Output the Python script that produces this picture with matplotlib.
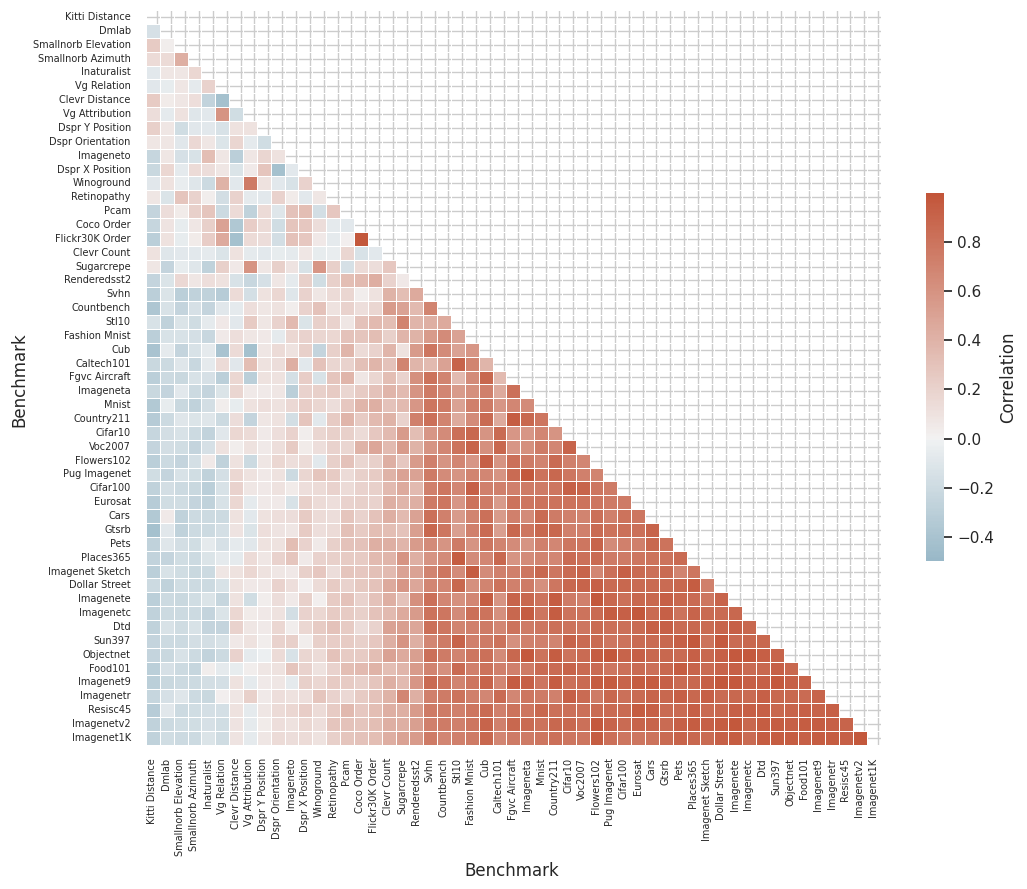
import matplotlib
matplotlib.use("Agg")
import matplotlib.pyplot as plt
import numpy as np
import seaborn as sns

benchmarks = ["Kitti Distance", "Dmlab", "Smallnorb Elevation", "Smallnorb Azimuth", "Inaturalist", "Vg Relation",
              "Clevr Distance", "Vg Attribution", "Dspr Y Position", "Dspr Orientation", "Imageneto", "Dspr X Position",
              "Winoground", "Retinopathy", "Pcam", "Coco Order", "Flickr30K Order", "Clevr Count", "Sugarcrepe",
              "Renderedsst2", "Svhn", "Countbench", "Stl10", "Fashion Mnist", "Cub", "Caltech101", "Fgvc Aircraft",
              "Imageneta", "Mnist", "Country211", "Cifar10", "Voc2007", "Flowers102", "Pug Imagenet", "Cifar100",
              "Eurosat", "Cars", "Gtsrb", "Pets", "Places365", "Imagenet Sketch", "Dollar Street", "Imagenete",
              "Imagenetc", "Dtd", "Sun397", "Objectnet", "Food101", "Imagenet9", "Imagenetr", "Resisc45", "Imagenetv2",
              "Imagenet1K"]

# lower triangle, one list per row
lower_rows = [
    [],
    [-.15],
    [.25, .03],
    [.15, .15, .42],
    [-.08, .07, .08, .17],
    [-.09, -.05, .07, -.06, .2],
    [.25, .04, .08, .12, -.26, -.42],
    [.13, -.06, .1, -.1, -.08, .6, -.18],
    [.22, .08, -.18, -.09, -.08, -.14, .1, .1],
    [.07, .08, -.09, .16, .07, -.11, .18, -.07, -.18],
    [-.24, .08, -.15, -.13, .33, .07, -.3, .07, .18, .1],
    [-.22, .17, -.06, .14, .13, .08, -.12, .05, .28, -.42, -.08],
    [-.09, .1, -.04, -.1, -.2, .4, -.08, .75, .1, -.08, -.13, .2],
    [.07, -.12, .28, .2, .03, -.17, .2, -.07, -.08, .2, .04, -.08, .07],
    [-.25, .13, .04, .22, .28, -.2, .15, -.28, .15, -.1, .3, .33, -.17, .27],
    [-.24, .09, -.05, .07, .22, .5, -.36, .23, .15, -.18, .28, .27, .13, -.06, -.08],
    [-.3, .1, -.05, .04, .23, .45, -.42, .15, .13, -.17, .3, .27, .06, -.07, .02, .98],
    [.1, -.1, -.08, -.08, -.07, -.12, .1, -.07, -.08, -.05, -.07, .08, -.05, -.04, .18, -.13, -.08],
    [.08, -.25, -.05, -.1, -.27, .22, .06, .6, .08, .22, .09, -.13, .58, .22, -.15, .15, .13, .27],
    [-.25, -.12, .16, .08, .12, .1, -.14, -.23, -.15, .08, -.06, .22, -.18, .22, .33, .35, .43, .2, .06],
    [-.3, -.12, -.3, -.27, -.28, -.32, .14, -.16, .1, .17, -.1, .2, .07, .15, .18, .03, .1, .4, .33, .45],
    [-.38, -.14, -.25, -.15, -.25, -.09, -.06, .12, .08, .1, .03, .2, .3, .1, .2, .12, .18, .55, .5, .35, .7],
    [-.13, -.27, -.12, -.19, -.07, .06, -.08, .25, .07, .2, .35, -.12, .22, .2, .07, .3, .35, .33, .7, .38, .42, .45],
    [-.3, -.13, -.14, -.16, -.23, .05, .12, .08, .06, -.07, .17, .2, .18, .17, .3, .28, .33, .22, .38, .4, .55, .65, .5],
    [-.4, -.07, -.25, -.13, -.06, -.4, .14, -.42, .07, .15, .1, .22, -.25, .22, .38, .15, .2, .38, .1, .55, .78, .65, .5, .58],
    [-.22, -.2, -.1, -.23, -.07, .15, -.09, .33, .1, .13, .42, -.08, .3, .18, .2, .32, .38, .3, .7, .38, .35, .5, .9, .7, .38],
    [-.3, -.2, -.22, -.13, -.15, -.3, .17, -.3, .1, .1, -.16, .23, -.14, .28, .38, .08, .18, .33, .2, .62, .8, .7, .35, .65, .88, .35],
    [-.22, -.25, -.08, -.2, -.25, -.12, .18, .05, .05, .07, -.3, .2, .22, .25, .18, .25, .3, .38, .35, .6, .75, .68, .55, .62, .72, .45, .82],
    [-.35, -.05, -.22, -.27, -.17, .03, -.05, .1, .12, .1, .16, .23, .18, .13, .27, .38, .42, .3, .35, .58, .78, .75, .5, .72, .75, .58, .68, .65],
    [-.33, -.2, -.1, -.12, -.1, -.2, .13, -.25, .08, .1, -.17, .28, -.08, .25, .38, .25, .35, .4, .2, .72, .82, .7, .45, .65, .85, .45, .95, .88, .78],
    [-.24, -.17, -.14, -.2, -.26, -.09, .17, .15, .05, .12, .2, .03, .18, .22, .22, .15, .27, .35, .55, .33, .58, .65, .82, .88, .6, .85, .58, .58, .68, .6],
    [-.25, -.17, -.18, -.25, -.15, .1, .03, .1, .05, .12, .25, .04, .12, .2, .18, .4, .48, .35, .55, .4, .6, .68, .8, .9, .62, .88, .58, .62, .75, .68, .9],
    [-.3, -.2, -.25, -.16, .05, -.28, .1, -.2, .08, .17, .12, .15, -.08, .22, .3, .18, .22, .42, .27, .55, .72, .6, .68, .58, .92, .6, .82, .75, .7, .85, .72, .68],
    [-.18, -.25, -.13, -.18, -.27, -.16, .17, .1, .06, .1, -.2, .18, .28, .25, .15, .22, .25, .4, .5, .5, .75, .65, .6, .7, .68, .6, .85, .98, .8, .88, .78, .72, .7],
    [-.27, -.17, -.2, -.22, -.3, -.13, .2, .08, .06, .1, .04, .12, .15, .2, .15, .2, .22, .35, .45, .35, .72, .78, .68, .92, .72, .72, .72, .75, .75, .78, .92, .9, .78, .75],
    [-.32, -.18, -.18, -.25, -.28, -.14, .17, -.06, .05, .05, -.13, .22, .15, .12, .2, .22, .2, .42, .38, .42, .75, .78, .58, .8, .75, .55, .8, .78, .8, .8, .8, .8, .78, .75, .75],
    [-.35, .05, -.28, -.2, -.2, -.2, .1, -.08, .1, .12, .13, .25, .15, .13, .28, .2, .3, .42, .35, .5, .82, .72, .55, .7, .82, .55, .72, .65, .85, .75, .72, .7, .82, .72, .8, .78],
    [-.42, -.09, -.28, -.2, -.2, -.16, .09, -.12, .12, .09, .07, .25, .12, .15, .32, .25, .33, .33, .3, .52, .88, .78, .52, .72, .85, .52, .88, .78, .88, .88, .72, .72, .85, .8, .82, .82, .9],
    [-.27, -.1, -.17, -.18, -.07, -.15, -.07, -.09, .1, .1, .33, .2, .05, .22, .3, .3, .42, .42, .38, .55, .65, .6, .75, .6, .78, .7, .65, .6, .72, .68, .78, .78, .9, .65, .72, .72, .88, .8],
    [-.26, -.25, -.18, -.2, -.12, -.07, -.06, .15, .07, .2, .28, .05, .2, .22, .25, .25, .35, .38, .6, .42, .6, .65, .95, .65, .68, .88, .6, .65, .7, .68, .85, .82, .85, .75, .75, .78, .8, .8, .85],
    [-.3, -.14, -.18, -.22, -.2, .07, .1, .17, .1, .08, .06, .22, .27, .13, .28, .27, .32, .35, .5, .5, .7, .78, .65, .95, .65, .72, .72, .78, .88, .78, .85, .9, .68, .82, .92, .85, .82, .85, .7, .78],
    [-.2, -.27, -.18, -.2, -.2, -.14, .1, .06, .06, .2, .12, .02, .15, .25, .2, .26, .3, .45, .58, .48, .68, .68, .88, .62, .7, .8, .72, .75, .62, .78, .88, .9, .92, .85, .88, .85, .85, .85, .88, .95, .72],
    [-.3, -.2, -.22, -.18, -.12, -.24, .1, -.18, .03, .13, .05, .22, .02, .25, .3, .2, .3, .42, .3, .62, .82, .68, .62, .68, .95, .6, .9, .88, .8, .95, .75, .72, .98, .88, .82, .88, .88, .92, .88, .85, .78, .9],
    [-.28, -.2, -.2, -.2, -.25, -.12, .17, .04, .06, .1, -.17, .2, .17, .25, .25, .22, .3, .35, .45, .55, .8, .78, .65, .82, .8, .62, .88, .95, .78, .95, .8, .8, .85, .95, .92, .98, .85, .92, .8, .9, .85, .85, .88],
    [-.28, -.14, -.19, -.14, -.25, -.25, .2, .08, .05, .17, .03, .17, .25, .3, .25, .13, .2, .5, .52, .48, .82, .78, .7, .72, .75, .68, .8, .75, .78, .82, .8, .78, .85, .82, .82, .85, .92, .92, .85, .88, .85, .9, .92, .88],
    [-.25, -.2, -.2, -.17, -.17, -.14, .06, .1, .03, .2, .22, .03, .22, .23, .25, .22, .27, .42, .6, .42, .68, .75, .9, .72, .75, .8, .62, .72, .72, .7, .9, .85, .85, .78, .8, .85, .85, .88, .92, .98, .8, .97, .85, .88, .88],
    [-.25, -.22, -.14, -.2, -.26, -.2, .2, -.07, -.03, .15, -.13, .18, .15, .3, .25, .25, .33, .5, .45, .52, .82, .75, .7, .78, .82, .65, .88, .97, .8, .95, .8, .85, .95, .98, .9, .92, .88, .88, .85, .92, .88, .92, .97, .97, .93, .9],
    [-.3, -.15, -.2, -.24, .03, -.07, -.05, .03, .08, .1, .28, .2, .1, .2, .33, .35, .4, .33, .38, .55, .7, .62, .85, .72, .8, .72, .72, .75, .85, .85, .9, .85, .85, .78, .82, .85, .82, .88, .95, .9, .85, .9, .92, .85, .88, .92, .88],
    [-.3, -.22, -.2, -.2, -.17, -.16, .1, -.07, .05, .08, -.07, .22, .17, .25, .25, .22, .28, .42, .35, .58, .85, .8, .7, .78, .9, .68, .95, .92, .78, .95, .82, .85, .95, .95, .9, .95, .95, .92, .85, .88, .92, .98, .97, .92, .92, .97, .92, .9],
    [-.24, -.15, -.1, -.2, -.22, .02, .08, .22, .05, .12, .1, .12, .28, .2, .16, .25, .3, .4, .68, .42, .72, .75, .8, .72, .68, .85, .68, .78, .75, .72, .92, .85, .75, .88, .82, .85, .9, .88, .92, .88, .92, .85, .88, .85, .92, .88, .88, .85, .9],
    [-.32, -.09, -.2, -.18, -.16, -.16, .1, -.06, .08, .14, .17, .23, .15, .25, .36, .27, .33, .42, .42, .55, .75, .75, .72, .78, .85, .72, .8, .78, .88, .82, .82, .82, .85, .85, .85, .95, .92, .85, .85, .92, .85, .88, .92, .92, .92, .88, .9, .92, .9, .92],
    [-.27, -.2, -.18, -.18, -.15, -.18, .09, -.07, .04, .12, .1, .17, .12, .28, .3, .28, .33, .42, .42, .52, .72, .75, .72, .78, .9, .72, .88, .85, .8, .88, .88, .82, .97, .9, .85, .9, .9, .85, .92, .95, .92, .95, .98, .88, .95, .95, .92, .95, .95, .92, .9],
    [-.27, -.18, -.2, -.2, -.12, -.19, .09, -.07, .07, .15, .13, .15, .1, .22, .28, .3, .33, .43, .5, .55, .75, .68, .72, .75, .88, .68, .75, .75, .78, .82, .78, .78, .95, .82, .78, .78, .8, .85, .9, .88, .85, .92, .95, .85, .95, .95, .95, .92, .95, .95, .92, .98],
]

n = len(benchmarks)
corr = np.eye(n)
for i, row in enumerate(lower_rows):
    corr[i, :len(row)] = row
    corr[:len(row), i] = row
mask = np.triu(np.ones_like(corr, dtype=bool))

sns.set_theme(style="whitegrid")

W, H = 1027, 889
fig = plt.figure(figsize=(W / 100, H / 100), dpi=100)
ax = fig.add_axes([146 / W, 1 - 744.8 / H, 734.7 / W, 734.7 / H])
cbar_ax = fig.add_axes([926 / W, 1 - 561 / H, 18 / W, 368 / H])

cmap = sns.diverging_palette(230, 20, as_cmap=True)
sns.heatmap(corr, mask=mask, cmap=cmap, center=0, vmin=-.4976, vmax=.998, square=True, linewidths=.5,
            xticklabels=benchmarks, yticklabels=benchmarks, ax=ax, cbar_ax=cbar_ax,
            cbar_kws={"label": "Correlation"})

# the vertical grid and x labels sit off the cell centres in the original
ax.set_xticks(np.arange(n) + .82)
ax.set_xticklabels(benchmarks, rotation=90, ha="right", fontsize=7)
ax.tick_params(axis="y", labelsize=7, pad=4.9)
plt.setp(ax.get_yticklabels(), rotation=0)
ax.set_xlabel("Benchmark", fontsize=12, x=.498)
ax.set_ylabel("Benchmark", fontsize=12, y=.497, labelpad=3.5)

fig.savefig("out.png", dpi=100)
